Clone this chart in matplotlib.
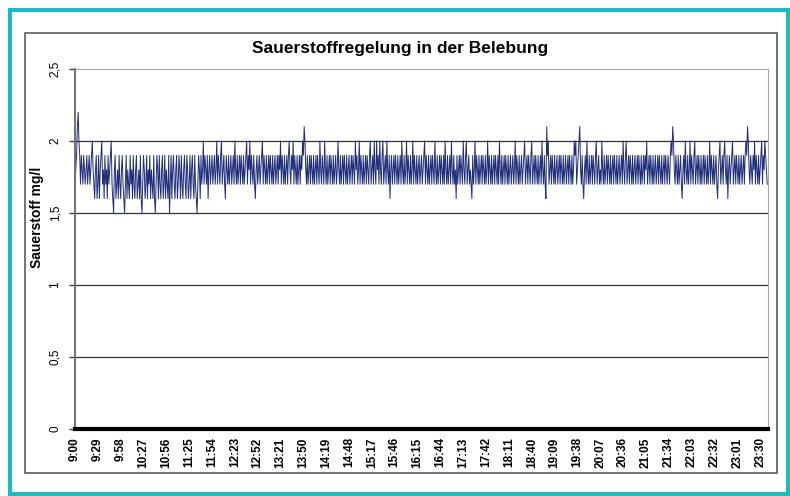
import numpy as np
import matplotlib
matplotlib.use('Agg')
import matplotlib.pyplot as plt
from matplotlib.patches import Rectangle

plt.rcParams['font.family'] = ['Liberation Sans', 'DejaVu Sans']

title = 'Sauerstoffregelung in der Belebung'
ylabel = 'Sauerstoff mg/l'

# one reading per minute from 9:00, values in tenths of mg/l
oxygen_tenths = [
    17, 18, 19, 21, 22, 20, 19, 17, 19, 18, 17, 19, 18, 17, 18, 19, 17, 18, 19, 17, 18, 19, 20, 18, 17, 16, 18, 19, 16, 17, 19, 16, 18, 19, 20, 17, 18, 16, 19, 17,
    18, 16, 19, 17, 18, 19, 20, 17, 16, 15, 18, 19, 16, 17, 18, 16, 19, 17, 16, 18, 19, 17, 16, 15, 17, 19, 16, 18, 17, 16, 19, 17, 18, 16, 19, 17, 16, 18, 19, 16,
    17, 18, 16, 19, 16, 15, 17, 19, 18, 16, 17, 19, 16, 18, 17, 19, 16, 18, 17, 16, 19, 16, 15, 17, 19, 18, 16, 19, 17, 16, 18, 19, 16, 17, 19, 16, 18, 17, 16, 19,
    15, 17, 19, 16, 18, 19, 17, 16, 18, 19, 16, 17, 19, 18, 16, 19, 17, 16, 18, 19, 17, 16, 19, 18, 16, 17, 19, 16, 18, 19, 17, 16, 19, 17, 16, 15, 17, 19, 18, 16,
    19, 17, 18, 20, 17, 19, 18, 17, 19, 16, 18, 19, 17, 18, 19, 17, 18, 19, 17, 18, 20, 17, 19, 18, 17, 19, 20, 17, 18, 19, 17, 16, 19, 18, 17, 19, 17, 18, 19, 17,
    18, 19, 17, 20, 18, 17, 19, 17, 18, 19, 17, 19, 18, 17, 19, 17, 18, 19, 20, 17, 19, 18, 20, 17, 19, 18, 17, 19, 17, 16, 18, 19, 17, 18, 19, 17, 18, 19, 20, 17,
    19, 18, 17, 19, 17, 18, 19, 17, 19, 18, 17, 19, 17, 18, 19, 17, 18, 19, 17, 19, 18, 20, 17, 19, 18, 17, 19, 17, 18, 19, 17, 19, 20, 18, 17, 19, 18, 20, 17, 19,
    18, 17, 19, 17, 18, 19, 17, 19, 18, 20, 19, 21, 20, 18, 17, 19, 17, 18, 19, 17, 19, 18, 17, 19, 17, 18, 19, 17, 19, 18, 17, 20, 18, 17, 19, 18, 17, 20, 18, 17,
    19, 17, 18, 19, 17, 19, 18, 17, 19, 17, 18, 19, 17, 18, 20, 18, 17, 19, 17, 18, 19, 17, 19, 18, 17, 19, 17, 18, 19, 17, 18, 19, 17, 19, 18, 17, 20, 18, 19, 17,
    18, 20, 17, 19, 18, 17, 19, 17, 18, 19, 17, 19, 18, 17, 19, 20, 17, 18, 19, 17, 20, 18, 17, 20, 18, 19, 17, 20, 18, 17, 19, 20, 17, 18, 19, 17, 20, 18, 17, 19,
    16, 18, 19, 17, 18, 19, 17, 19, 18, 17, 19, 17, 18, 19, 17, 20, 18, 17, 19, 17, 18, 20, 17, 19, 18, 17, 19, 17, 18, 20, 17, 19, 18, 17, 19, 17, 18, 19, 17, 18,
    19, 17, 18, 19, 20, 17, 19, 18, 17, 19, 17, 18, 19, 17, 19, 18, 17, 20, 18, 17, 19, 17, 18, 19, 17, 19, 18, 17, 19, 17, 20, 18, 17, 19, 17, 18, 19, 17, 20, 18,
    17, 19, 17, 18, 16, 19, 17, 18, 19, 17, 19, 18, 17, 20, 18, 17, 19, 20, 17, 18, 19, 17, 18, 17, 16, 19, 17, 18, 20, 17, 19, 18, 17, 19, 17, 18, 19, 17, 19, 18,
    17, 19, 17, 18, 20, 17, 19, 18, 17, 19, 17, 18, 19, 17, 19, 18, 17, 19, 17, 20, 18, 17, 19, 17, 18, 19, 17, 19, 18, 17, 19, 17, 18, 19, 17, 18, 19, 17, 18, 20,
    17, 19, 18, 17, 19, 17, 18, 19, 17, 18, 19, 20, 17, 18, 19, 17, 19, 18, 17, 19, 20, 17, 18, 19, 17, 19, 18, 17, 19, 17, 18, 19, 17, 20, 18, 17, 19, 17, 16, 21,
    19, 20, 17, 18, 19, 17, 19, 18, 17, 19, 17, 18, 19, 17, 18, 19, 17, 19, 18, 17, 19, 17, 18, 19, 17, 18, 19, 17, 19, 18, 17, 19, 17, 18, 20, 19, 20, 17, 18, 19,
    20, 21, 18, 17, 19, 17, 16, 18, 19, 17, 20, 18, 17, 19, 17, 18, 19, 17, 19, 18, 17, 19, 20, 17, 18, 19, 17, 18, 17, 20, 18, 17, 19, 17, 18, 19, 17, 19, 18, 17,
    19, 17, 18, 19, 17, 19, 18, 17, 19, 17, 18, 19, 17, 18, 19, 17, 20, 18, 17, 19, 20, 17, 18, 19, 17, 19, 18, 17, 19, 17, 18, 19, 17, 18, 19, 17, 19, 18, 17, 19,
    17, 18, 19, 17, 19, 18, 20, 17, 18, 19, 17, 19, 18, 17, 19, 17, 18, 19, 17, 18, 19, 17, 19, 18, 17, 19, 17, 18, 19, 17, 19, 18, 17, 19, 18, 17, 19, 20, 19, 21,
    20, 18, 17, 19, 18, 17, 19, 17, 18, 19, 17, 16, 18, 19, 17, 20, 18, 17, 19, 17, 18, 20, 17, 19, 18, 17, 19, 20, 17, 18, 19, 17, 19, 18, 17, 19, 17, 18, 19, 17,
    19, 18, 17, 19, 17, 18, 20, 17, 19, 18, 17, 19, 17, 18, 19, 17, 16, 18, 19, 20, 17, 18, 19, 17, 19, 20, 18, 17, 19, 16, 18, 19, 17, 18, 19, 20, 17, 18, 19, 17,
    19, 18, 17, 19, 17, 18, 19, 17, 18, 19, 17, 19, 20, 19, 21, 20, 18, 17, 19, 18, 17, 19, 18, 20, 17, 19, 18, 17, 19, 17, 18, 19, 20, 17, 19, 18, 20, 19, 18, 17, 17,
]
oxygen = np.array(oxygen_tenths) / 10.0
minutes = np.arange(len(oxygen))

tick_labels = ['9:00', '9:29', '9:58', '10:27', '10:56', '11:25', '11:54', '12:23', '12:52',
               '13:21', '13:50', '14:19', '14:48', '15:17', '15:46', '16:15', '16:44', '17:13',
               '17:42', '18:11', '18:40', '19:09', '19:38', '20:07', '20:36', '21:05', '21:34',
               '22:03', '22:32', '23:01', '23:30']
y_ticks = [0, 0.5, 1, 1.5, 2, 2.5]
y_tick_labels = ['0', '0,5', '1', '1,5', '2', '2,5']

W, H = 790, 496
fig = plt.figure(figsize=(W / 100, H / 100), dpi=100)

# teal outer frame and grey chart frame
fig.patches.append(Rectangle((10 / W, 2 / H), 778 / W, 484 / H, transform=fig.transFigure,
                             fill=False, ec='#1bbcc0', lw=2.9))
fig.patches.append(Rectangle((25 / W, 23 / H), 752 / W, 440 / H, transform=fig.transFigure,
                             fill=False, ec='#5c5c5c', lw=1.2))

ax = fig.add_axes([75 / W, 1 - 429 / H, 693 / W, 360 / H])
ax.plot(minutes, oxygen, color='#1f2d7a', lw=0.7)

ax.set_xlim(0, 880)
ax.set_ylim(0, 2.5)
ax.set_yticks(y_ticks)
ax.set_yticklabels(y_tick_labels, rotation=90, va='center', fontsize=8.5)
ax.set_xticks([i * 29 for i in range(len(tick_labels))])
ax.set_xticklabels(tick_labels, rotation=90, fontsize=8.5, fontweight='bold')
ax.tick_params(axis='x', length=0, pad=6)
ax.tick_params(axis='y', length=4, width=1, color='#404040', pad=6)

for v in y_ticks[1:-1]:
    ax.axhline(v, color='#303030', lw=0.9, zorder=1)
ax.axhline(0, color='black', lw=3, clip_on=False, zorder=3)

ax.spines['left'].set_color('#707070')
ax.spines['left'].set_linewidth(1.4)
ax.spines['top'].set_color('#a8a8a8')
ax.spines['right'].set_color('#a8a8a8')
ax.spines['bottom'].set_visible(False)

fig.text(400 / W, 1 - 49 / H, title, ha='center', va='center', fontsize=12.5, fontweight='bold')
fig.text(37 / W, 1 - 217 / H, ylabel, ha='center', va='center', rotation=90,
         fontsize=10, fontweight='bold')

fig.savefig('out.png', dpi=100)
